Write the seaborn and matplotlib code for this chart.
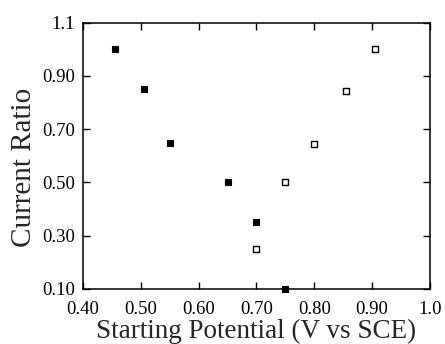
import numpy as np
import pandas as pd
import matplotlib
matplotlib.use("Agg")
import matplotlib.pyplot as plt
import seaborn as sns

# filled squares (left branch) and open squares (right branch)
filled_x = [0.455, 0.505, 0.55, 0.65, 0.70, 0.75]
filled_y = [1.00, 0.85, 0.65, 0.50, 0.35, 0.10]
open_x = [0.70, 0.75, 0.80, 0.855, 0.905]
open_y = [0.25, 0.50, 0.645, 0.845, 1.00]

x_ticks = [0.40, 0.50, 0.60, 0.70, 0.80, 0.90, 1.0]
x_labels = ["0.40", "0.50", "0.60", "0.70", "0.80", "0.90", "1.0"]
y_ticks = [0.10, 0.30, 0.50, 0.70, 0.90, 1.1]
y_labels = ["0.10", "0.30", "0.50", "0.70", "0.90", "1.1"]

sns.set_style("ticks")
plt.rcParams["font.family"] = ["Liberation Serif", "DejaVu Serif"]

fig = plt.figure(figsize=(4.45, 3.44), dpi=100)
ax = fig.add_axes([0.1865, 0.160, 0.7795, 0.774])

left = pd.DataFrame({"x": filled_x, "y": filled_y})
right = pd.DataFrame({"x": open_x, "y": open_y})
sns.scatterplot(data=left, x="x", y="y", marker="s", s=20, color="black",
                edgecolor="black", linewidth=0.8, ax=ax, clip_on=False, zorder=3)
sns.scatterplot(data=right, x="x", y="y", marker="s", s=18, color="white",
                edgecolor="black", linewidth=1.0, ax=ax, clip_on=False, zorder=3)

ax.set_xlim(0.40, 1.0)
ax.set_ylim(0.10, 1.1)
ax.set_xticks(x_ticks)
ax.set_xticklabels(x_labels)
ax.set_yticks(y_ticks)
ax.set_yticklabels(y_labels)
ax.tick_params(direction="in", length=5, width=1, top=True, right=True,
               labelsize=13.5, colors="black")
ax.tick_params(axis="x", pad=9)
ax.tick_params(axis="y", pad=6)
for sp in ax.spines.values():
    sp.set_linewidth(1.1)
    sp.set_color("black")

ax.set_xlabel("Starting Potential (V vs SCE)", fontsize=19.5, labelpad=0)
ax.set_ylabel("Current Ratio", fontsize=21)
ax.yaxis.set_label_coords(-0.133, 0.458)

fig.savefig("out.png", dpi=100)
